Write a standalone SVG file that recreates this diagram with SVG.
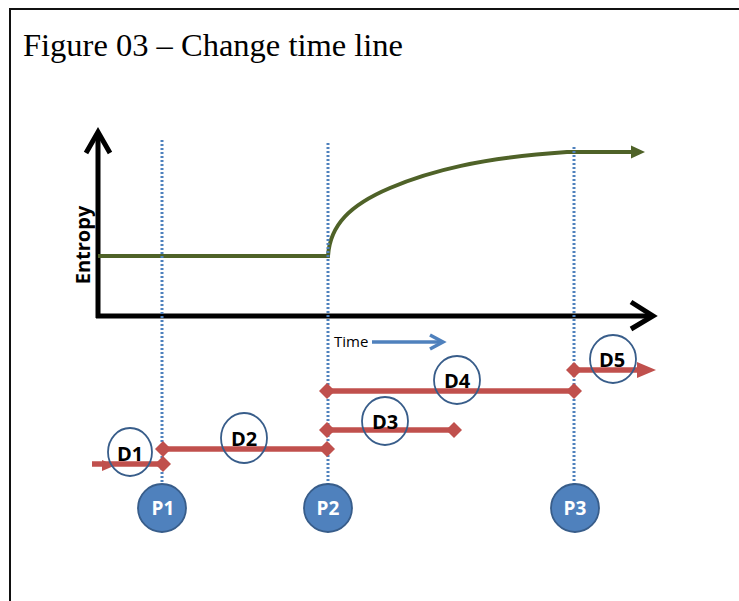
<svg xmlns="http://www.w3.org/2000/svg" width="739" height="601" viewBox="0 0 739 601">
  <style>
    .axis { stroke: #000; stroke-width: 5; fill: none; }
    .dot { stroke: #4f81bd; stroke-width: 3; stroke-dasharray: 2 2; fill: none; }
    .red { stroke: #c0504d; stroke-width: 5.5; fill: none; }
    .dcirc { fill: none; stroke: #385d8a; stroke-width: 1.8; }
    .pcirc { fill: #4f81bd; stroke: #385d8a; stroke-width: 1.8; }
    .dlab { font-family: "Open Sans", "Liberation Sans", sans-serif; font-weight: bold; font-size: 20px; fill: #000; text-anchor: middle; }
    .plab { font-family: "Open Sans", "Liberation Sans", sans-serif; font-weight: bold; font-size: 19px; fill: #fff; text-anchor: middle; }
  </style>
  <defs>
    <marker id="dia" markerUnits="userSpaceOnUse" markerWidth="18" markerHeight="18" refX="9" refY="9" orient="auto" viewBox="0 0 18 18">
      <path d="M9,1 L17,9 L9,17 L1,9 Z" fill="#c0504d"/>
    </marker>
  </defs>
  <rect x="10" y="9" width="800" height="700" fill="#fff" stroke="#111" stroke-width="2"/>
  <text x="23" y="56" font-family="Liberation Serif, serif" font-size="32.5" fill="#000">Figure 03 – Change time line</text>

  <g id="axes">
    <line class="axis" x1="98" y1="318" x2="98" y2="133"/>
    <polyline class="axis" points="86,153 98,132 110,153"/>
    <line class="axis" x1="96" y1="316" x2="652" y2="316"/>
    <polyline class="axis" points="631,302 653,316 631,329"/>
    <text transform="translate(90,245) rotate(-90)" text-anchor="middle" font-family="Open Sans, Liberation Sans, sans-serif" font-weight="bold" font-size="20" fill="#000">Entropy</text>
  </g>

  <g id="entropy-curve">
    <path d="M98,256 L328,256 C330,225 350,205 390,188 S480,158 567,152 L634,152" fill="none" stroke="#4f6228" stroke-width="4"/>
    <polygon points="631,145.5 645,152 631,158.5" fill="#4f6228"/>
  </g>

  <g id="time-label">
    <text x="334" y="347" font-family="Open Sans, Liberation Sans, sans-serif" font-size="15" fill="#000">Time</text>
    <line x1="372" y1="342" x2="441" y2="342" stroke="#4f81bd" stroke-width="3.5"/>
    <polyline points="430,335 443,342 430,349" fill="none" stroke="#4f81bd" stroke-width="3.5"/>
  </g>

  <g id="connectors">
    <line class="dot" x1="162" y1="140" x2="162" y2="484"/>
    <line class="dot" x1="328" y1="143" x2="328" y2="484"/>
    <line class="dot" x1="574" y1="147" x2="574" y2="484"/>
    <line class="red" x1="92" y1="464" x2="163" y2="464" marker-end="url(#dia)"/>
    <polygon points="102,460 115,465.5 102,471" fill="#c0504d"/>
    <line class="red" x1="163" y1="449" x2="327" y2="449" marker-start="url(#dia)" marker-end="url(#dia)"/>
    <line class="red" x1="327" y1="430" x2="454" y2="430" marker-start="url(#dia)" marker-end="url(#dia)"/>
    <line class="red" x1="327" y1="391" x2="574" y2="391" marker-start="url(#dia)" marker-end="url(#dia)"/>
    <line class="red" x1="574" y1="370" x2="640" y2="370" marker-start="url(#dia)"/>
    <polygon points="637,362 656,370 637,378" fill="#c0504d"/>
  </g>

  <g id="D1"><ellipse class="dcirc" cx="130" cy="452" rx="22" ry="24"/><text class="dlab" x="130" y="461">D1</text></g>
  <g id="D2"><ellipse class="dcirc" cx="244" cy="438" rx="23" ry="25"/><text class="dlab" x="244" y="446">D2</text></g>
  <g id="D3"><ellipse class="dcirc" cx="385" cy="421" rx="23" ry="24"/><text class="dlab" x="385" y="429">D3</text></g>
  <g id="D4"><ellipse class="dcirc" cx="457" cy="380" rx="23" ry="24"/><text class="dlab" x="457" y="388">D4</text></g>
  <g id="D5"><ellipse class="dcirc" cx="613" cy="359" rx="23" ry="24"/><text class="dlab" x="612" y="367">D5</text></g>

  <g id="P1"><ellipse class="pcirc" cx="162" cy="508" rx="24" ry="24"/><text class="plab" x="163" y="515">P1</text></g>
  <g id="P2"><ellipse class="pcirc" cx="328" cy="508" rx="24" ry="24"/><text class="plab" x="328" y="515">P2</text></g>
  <g id="P3"><ellipse class="pcirc" cx="575" cy="508" rx="24" ry="24"/><text class="plab" x="575" y="515">P3</text></g>
</svg>
